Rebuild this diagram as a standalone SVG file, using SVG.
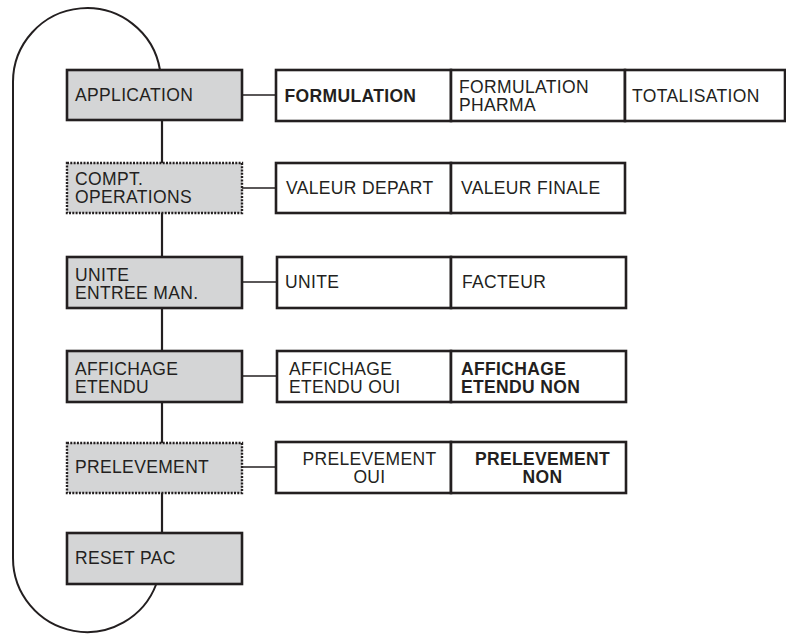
<svg xmlns="http://www.w3.org/2000/svg" width="786" height="634" viewBox="0 0 786 634">
<style>
.bg{fill:#ffffff}
.menu{fill:#d4d5d6;stroke:#231f20;stroke-width:2.6}
.dot{stroke-dasharray:2 1.3;stroke-width:2.4}
.opt{fill:#ffffff;stroke:#231f20;stroke-width:2.6}
.t{font-family:"Liberation Sans",Arial,sans-serif;font-size:17.5px;letter-spacing:0.35px;fill:#231f20}
.b{font-weight:bold}
.m{text-anchor:middle}
.loop{fill:none;stroke:#231f20;stroke-width:2}
.v{stroke:#231f20;stroke-width:2.2;fill:none}
.h{stroke:#231f20;stroke-width:1.5;fill:none}
</style>
<rect class="bg" x="0" y="0" width="786" height="634"/>
<g id="connectors">
<path class="loop" d="M 160 70 A 74 74 0 0 0 13 83 L 13 558 A 74 74 0 0 0 156.3 584"/>
<line class="v" x1="162" y1="120" x2="162" y2="163"/>
<line class="v" x1="162" y1="213" x2="162" y2="257"/>
<line class="v" x1="162" y1="308" x2="162" y2="351"/>
<line class="v" x1="162" y1="402" x2="162" y2="443"/>
<line class="v" x1="162" y1="493" x2="162" y2="533"/>
<line class="h" x1="242" y1="95" x2="276" y2="95"/>
<line class="h" x1="242" y1="188" x2="276" y2="188"/>
<line class="h" x1="242" y1="282" x2="277" y2="282"/>
<line class="h" x1="242" y1="376" x2="277" y2="376"/>
<line class="h" x1="242" y1="467" x2="276" y2="467"/>
</g>
<g id="application">
<rect class="menu" x="67" y="70" width="175" height="50"/>
<text class="t" x="75" y="101">APPLICATION</text>
</g>
<g id="compt-operations">
<rect class="menu dot" x="67" y="163" width="175" height="50"/>
<text class="t" x="75" y="184.5">COMPT.</text>
<text class="t" x="75" y="202.5">OPERATIONS</text>
</g>
<g id="unite-entree-man">
<rect class="menu" x="67" y="257" width="175" height="51"/>
<text class="t" x="75" y="280.5">UNITE</text>
<text class="t" x="75" y="298.5">ENTREE MAN.</text>
</g>
<g id="affichage-etendu">
<rect class="menu" x="67" y="351" width="175" height="51"/>
<text class="t" x="75" y="375">AFFICHAGE</text>
<text class="t" x="75" y="393">ETENDU</text>
</g>
<g id="prelevement">
<rect class="menu dot" x="67" y="443" width="175" height="50"/>
<text class="t" x="75" y="472.5">PRELEVEMENT</text>
</g>
<g id="reset-pac">
<rect class="menu" x="67" y="533" width="175" height="51"/>
<text class="t" x="75" y="563.5">RESET PAC</text>
</g>
<g id="formulation">
<rect class="opt" x="276" y="70" width="175" height="51"/>
<text class="t b" x="284.5" y="101.5">FORMULATION</text>
</g>
<g id="formulation-pharma">
<rect class="opt" x="451" y="70" width="174" height="51"/>
<text class="t" x="459" y="93">FORMULATION</text>
<text class="t" x="459" y="111">PHARMA</text>
</g>
<g id="totalisation">
<rect class="opt" x="625" y="70" width="160" height="51"/>
<text class="t" x="632" y="101.5">TOTALISATION</text>
</g>
<g id="valeur-depart">
<rect class="opt" x="276" y="163" width="175" height="50"/>
<text class="t" x="286" y="194">VALEUR DEPART</text>
</g>
<g id="valeur-finale">
<rect class="opt" x="451" y="163" width="174" height="50"/>
<text class="t" x="461" y="194">VALEUR FINALE</text>
</g>
<g id="unite">
<rect class="opt" x="277" y="257" width="174" height="51"/>
<text class="t" x="285" y="288">UNITE</text>
</g>
<g id="facteur">
<rect class="opt" x="451" y="257" width="175" height="51"/>
<text class="t" x="462" y="288">FACTEUR</text>
</g>
<g id="affichage-etendu-oui">
<rect class="opt" x="277" y="351" width="174" height="51"/>
<text class="t" x="289" y="375">AFFICHAGE</text>
<text class="t" x="289" y="393">ETENDU OUI</text>
</g>
<g id="affichage-etendu-non">
<rect class="opt" x="451" y="351" width="175" height="51"/>
<text class="t b" x="461" y="375">AFFICHAGE</text>
<text class="t b" x="461" y="393">ETENDU NON</text>
</g>
<g id="prelevement-oui">
<rect class="opt" x="276" y="442" width="175" height="51"/>
<text class="t m" x="369.5" y="464.5">PRELEVEMENT</text>
<text class="t m" x="369.5" y="483">OUI</text>
</g>
<g id="prelevement-non">
<rect class="opt" x="451" y="442" width="175" height="51"/>
<text class="t b m" x="542.5" y="464.5">PRELEVEMENT</text>
<text class="t b m" x="542.5" y="483">NON</text>
</g>
</svg>
